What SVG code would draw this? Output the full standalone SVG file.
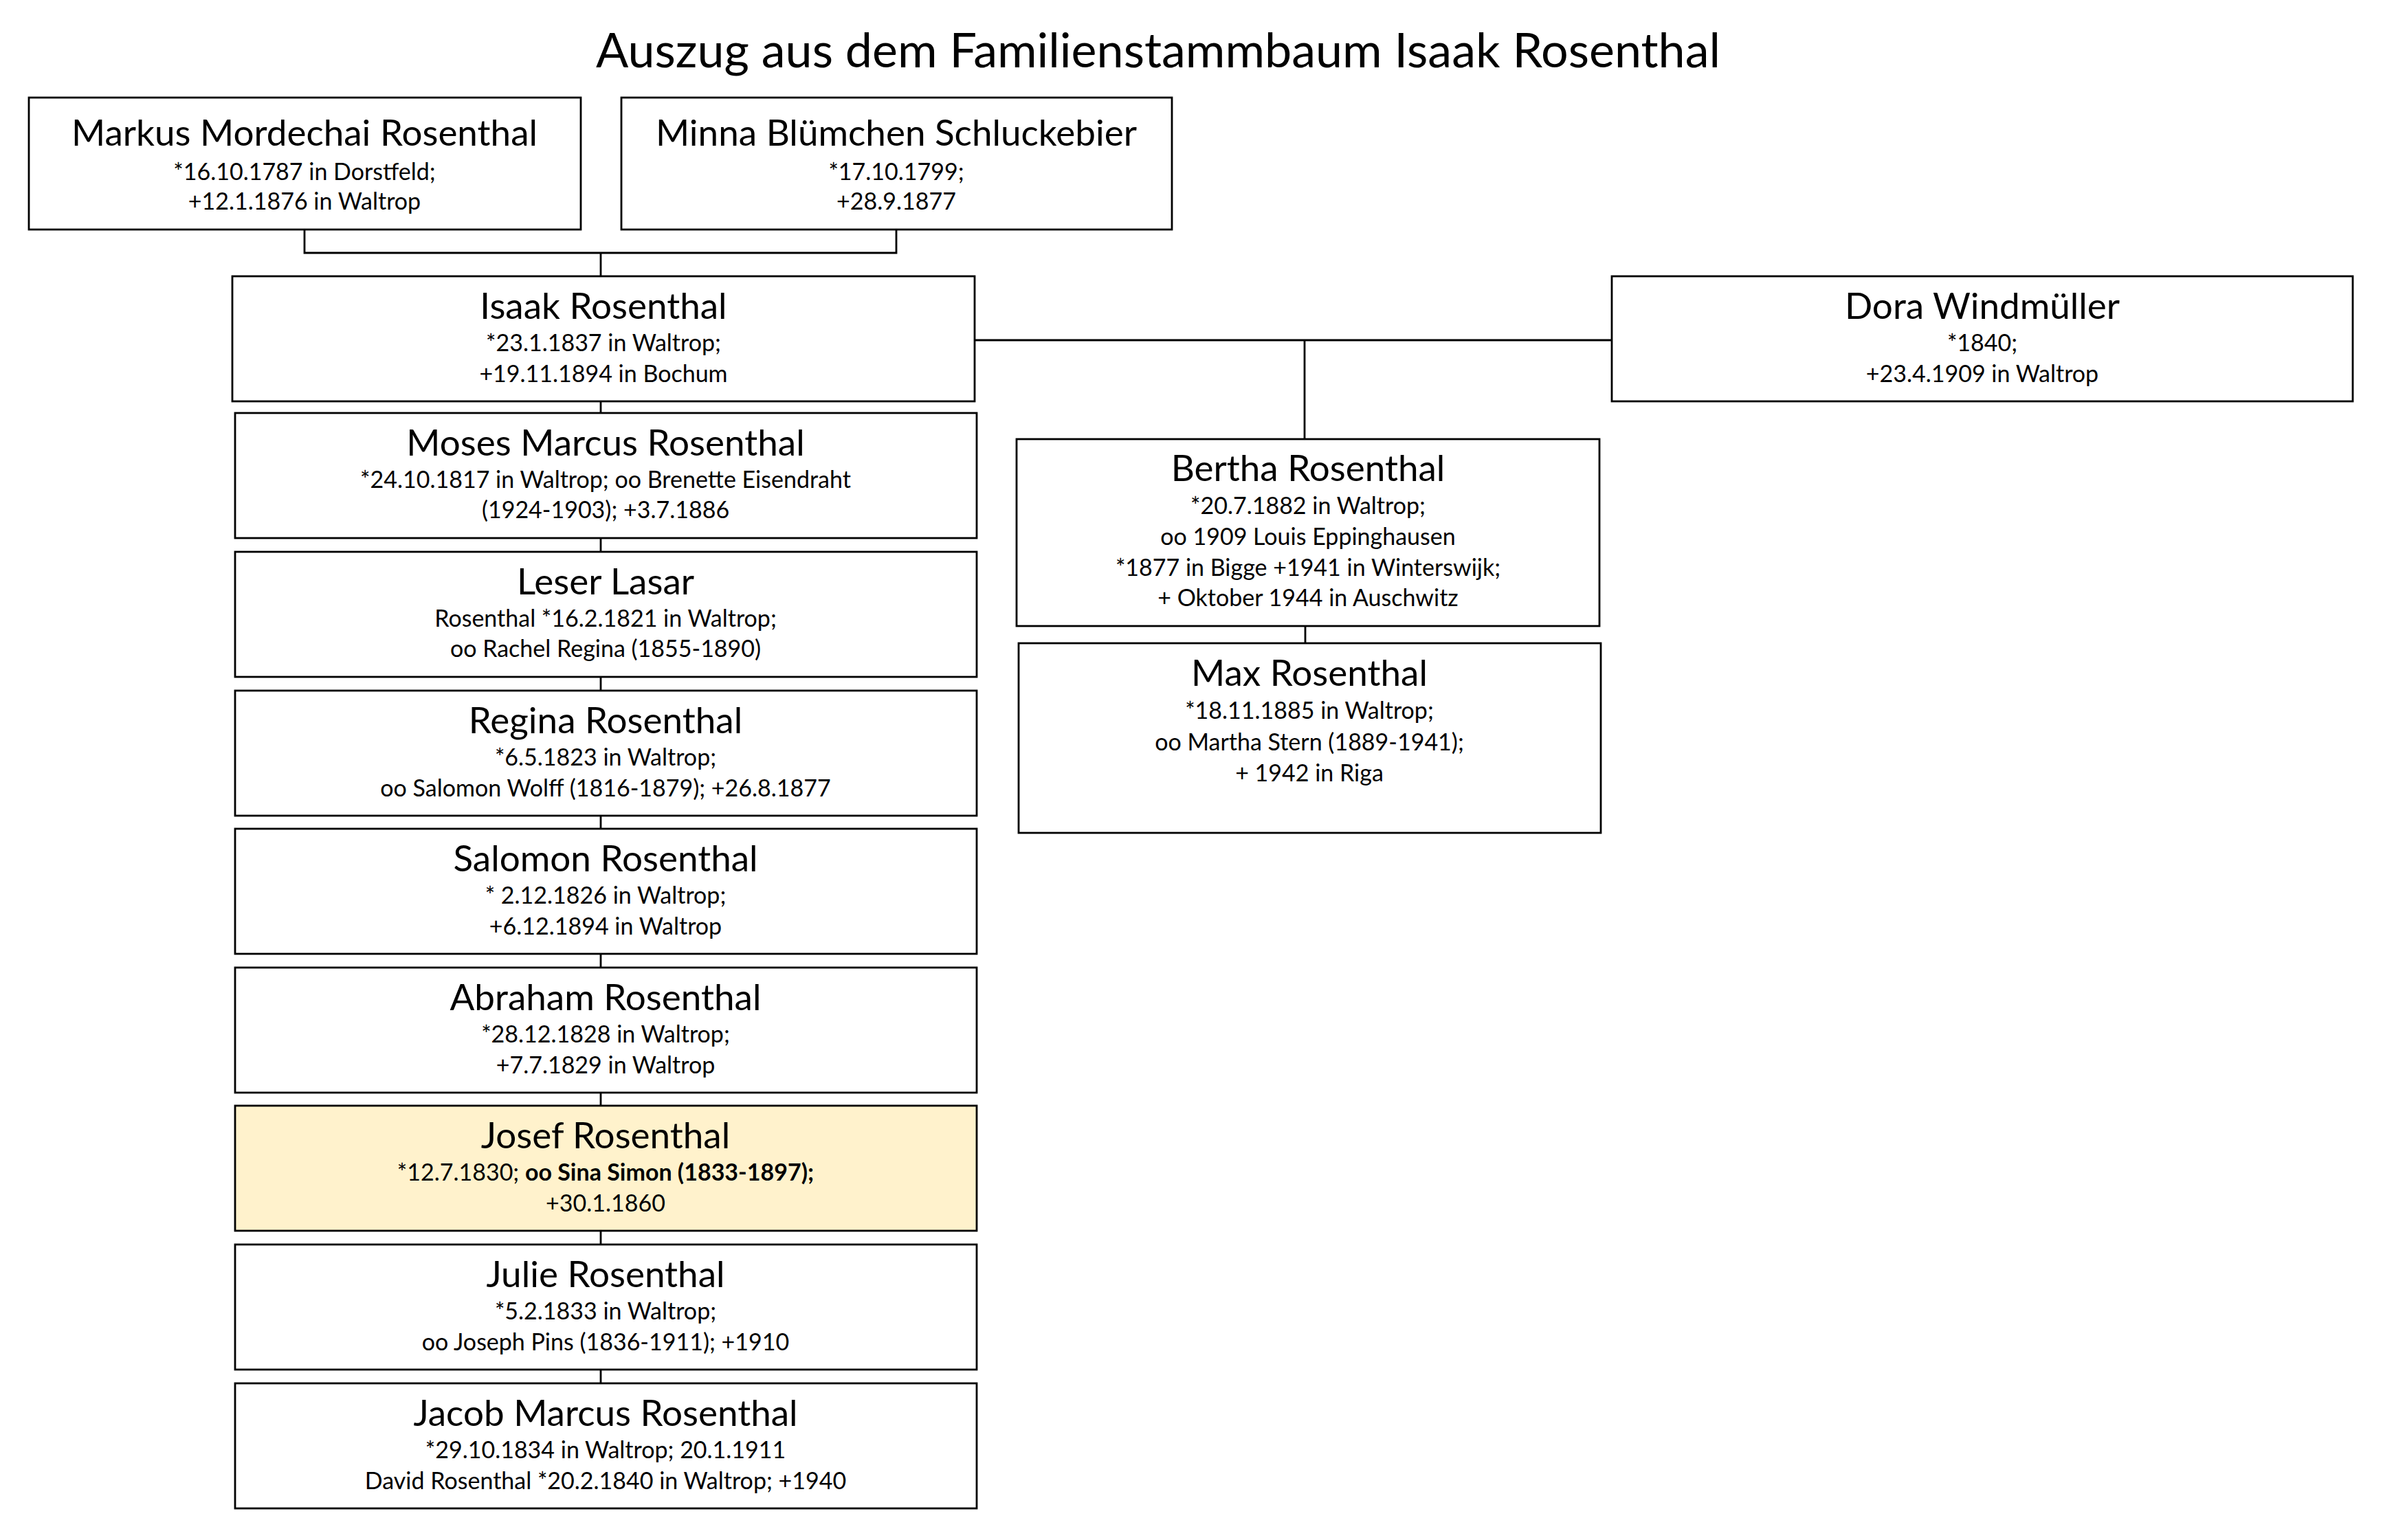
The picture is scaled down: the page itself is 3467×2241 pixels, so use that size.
<svg xmlns="http://www.w3.org/2000/svg" width="3467" height="2241" viewBox="0 0 3467 2241">
<style>
.bg{fill:#ffffff}
.box{fill:#ffffff;stroke:#000000;stroke-width:2.8}
.hl{fill:#FFF2CC;stroke:#000000;stroke-width:2.8}
.ln{stroke:#000000;stroke-width:2.8;fill:none}
text{font-family:Lato,"Open Sans","Liberation Sans",sans-serif;fill:#000000;text-anchor:middle}
.title{font-size:70px}
.nm{font-size:53px}
.dt{font-size:34px}
.b{font-weight:bold}
</style>
<rect class="bg" x="0" y="0" width="3467" height="2241"/>
<text class="title" x="1685" y="98">Auszug aus dem Familienstammbaum Isaak Rosenthal</text>

<g id="connectors">
<polyline class="ln" points="443,334 443,368 1304,368 1304,334"/>
<line class="ln" x1="874" y1="368" x2="874" y2="402"/>
<line class="ln" x1="1418" y1="495" x2="2345" y2="495"/>
<line class="ln" x1="1898" y1="495" x2="1898" y2="639"/>
<line class="ln" x1="1899" y1="911" x2="1899" y2="936"/>
<line class="ln" x1="874" y1="584" x2="874" y2="601"/>
<line class="ln" x1="874" y1="783" x2="874" y2="803"/>
<line class="ln" x1="874" y1="985" x2="874" y2="1005"/>
<line class="ln" x1="874" y1="1187" x2="874" y2="1206"/>
<line class="ln" x1="874" y1="1388" x2="874" y2="1408"/>
<line class="ln" x1="874" y1="1590" x2="874" y2="1609"/>
<line class="ln" x1="874" y1="1791" x2="874" y2="1811"/>
<line class="ln" x1="874" y1="1993" x2="874" y2="2013"/>
</g>

<g id="markus">
<rect class="box" x="42" y="142" width="803" height="192"/>
<text class="nm" x="443" y="212">Markus Mordechai Rosenthal</text>
<text class="dt" x="443" y="262">*16.10.1787 in Dorstfeld;</text>
<text class="dt" x="443" y="305">+12.1.1876 in Waltrop</text>
</g>

<g id="minna">
<rect class="box" x="904" y="142" width="801" height="192"/>
<text class="nm" x="1304" y="212">Minna Blümchen Schluckebier</text>
<text class="dt" x="1304" y="262">*17.10.1799;</text>
<text class="dt" x="1304" y="305">+28.9.1877</text>
</g>

<g id="isaak">
<rect class="box" x="338" y="402" width="1080" height="182"/>
<text class="nm" x="878" y="464">Isaak Rosenthal</text>
<text class="dt" x="878" y="511">*23.1.1837 in Waltrop;</text>
<text class="dt" x="878" y="556">+19.11.1894 in Bochum</text>
</g>

<g id="dora">
<rect class="box" x="2345" y="402" width="1078" height="182"/>
<text class="nm" x="2884" y="464">Dora Windmüller</text>
<text class="dt" x="2884" y="511">*1840;</text>
<text class="dt" x="2884" y="556">+23.4.1909 in Waltrop</text>
</g>

<g id="bertha">
<rect class="box" x="1479" y="639" width="848" height="272"/>
<text class="nm" x="1903" y="700">Bertha Rosenthal</text>
<text class="dt" x="1903" y="748">*20.7.1882 in Waltrop;</text>
<text class="dt" x="1903" y="793">oo 1909 Louis Eppinghausen</text>
<text class="dt" x="1903" y="838">*1877 in Bigge +1941 in Winterswijk;</text>
<text class="dt" x="1903" y="882">+ Oktober 1944 in Auschwitz</text>
</g>

<g id="max">
<rect class="box" x="1482" y="936" width="847" height="276"/>
<text class="nm" x="1905" y="998">Max Rosenthal</text>
<text class="dt" x="1905" y="1046">*18.11.1885 in Waltrop;</text>
<text class="dt" x="1905" y="1092">oo Martha Stern (1889-1941);</text>
<text class="dt" x="1905" y="1137">+ 1942 in Riga</text>
</g>

<g id="moses">
<rect class="box" x="342" y="601" width="1079" height="182"/>
<text class="nm" x="881" y="663">Moses Marcus Rosenthal</text>
<text class="dt" x="881" y="710">*24.10.1817 in Waltrop; oo Brenette Eisendraht</text>
<text class="dt" x="881" y="754">(1924-1903); +3.7.1886</text>
</g>

<g id="leser">
<rect class="box" x="342" y="803" width="1079" height="182"/>
<text class="nm" x="881" y="865">Leser Lasar</text>
<text class="dt" x="881" y="912">Rosenthal *16.2.1821 in Waltrop;</text>
<text class="dt" x="881" y="956">oo Rachel Regina (1855-1890)</text>
</g>

<g id="regina">
<rect class="box" x="342" y="1005" width="1079" height="182"/>
<text class="nm" x="881" y="1067">Regina Rosenthal</text>
<text class="dt" x="881" y="1114">*6.5.1823 in Waltrop;</text>
<text class="dt" x="881" y="1159">oo Salomon Wolff (1816-1879); +26.8.1877</text>
</g>

<g id="salomon">
<rect class="box" x="342" y="1206" width="1079" height="182"/>
<text class="nm" x="881" y="1268">Salomon Rosenthal</text>
<text class="dt" x="881" y="1315">* 2.12.1826 in Waltrop;</text>
<text class="dt" x="881" y="1360">+6.12.1894 in Waltrop</text>
</g>

<g id="abraham">
<rect class="box" x="342" y="1408" width="1079" height="182"/>
<text class="nm" x="881" y="1470">Abraham Rosenthal</text>
<text class="dt" x="881" y="1517">*28.12.1828 in Waltrop;</text>
<text class="dt" x="881" y="1562">+7.7.1829 in Waltrop</text>
</g>

<g id="josef">
<rect class="hl" x="342" y="1609" width="1079" height="182"/>
<text class="nm" x="881" y="1671">Josef Rosenthal</text>
<text class="dt" x="881" y="1718">*12.7.1830; <tspan class="b">oo Sina Simon (1833-1897);</tspan></text>
<text class="dt" x="881" y="1763">+30.1.1860</text>
</g>

<g id="julie">
<rect class="box" x="342" y="1811" width="1079" height="182"/>
<text class="nm" x="881" y="1873">Julie Rosenthal</text>
<text class="dt" x="881" y="1920">*5.2.1833 in Waltrop;</text>
<text class="dt" x="881" y="1965">oo Joseph Pins (1836-1911); +1910</text>
</g>

<g id="jacob">
<rect class="box" x="342" y="2013" width="1079" height="182"/>
<text class="nm" x="881" y="2075">Jacob Marcus Rosenthal</text>
<text class="dt" x="881" y="2122">*29.10.1834 in Waltrop; 20.1.1911</text>
<text class="dt" x="881" y="2167">David Rosenthal *20.2.1840 in Waltrop; +1940</text>
</g>
</svg>
